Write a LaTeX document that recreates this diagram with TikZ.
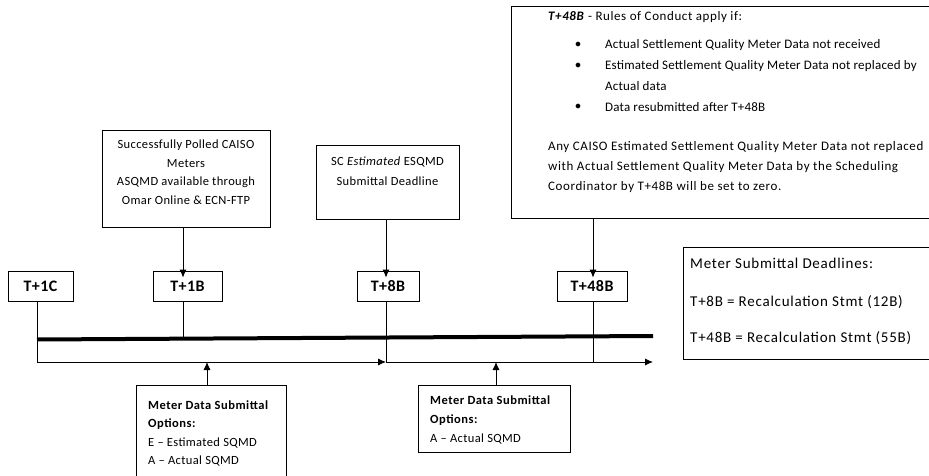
\documentclass[tikz,border=0pt]{standalone}
\usepackage{fontspec}
\setmainfont{Carlito}
\usetikzlibrary{arrows.meta}
\begin{document}
\begin{tikzpicture}[x=1pt,y=-1pt,
  box/.style={draw,line width=0.8pt,inner sep=0pt,minimum width=#1},
  tbox/.style={draw,line width=0.8pt,inner sep=0pt,minimum height=30pt,minimum width=#1,font=\bfseries\fontsize{16}{18}\selectfont\addfontfeature{LetterSpace=3}},
  txt/.style={inner sep=0pt,anchor=west,font=\fontsize{12.5}{15}\selectfont\addfontfeature{LetterSpace=3}},
  rtxt/.style={inner sep=0pt,anchor=west,font=\fontsize{13}{15}\selectfont\addfontfeature{LetterSpace=4.5}},
  ltxt/.style={inner sep=0pt,anchor=west,font=\fontsize{13}{15}\selectfont\addfontfeature{LetterSpace=1.5}},
  ctxt/.style={inner sep=0pt,font=\fontsize{12.5}{15}\selectfont\addfontfeature{LetterSpace=3}},
  btxt/.style={inner sep=0pt,anchor=west,font=\bfseries\fontsize{12.5}{15}\selectfont\addfontfeature{LetterSpace=4}},
  dtxt/.style={inner sep=0pt,anchor=west,font=\fontsize{15}{18}\selectfont\addfontfeature{LetterSpace=5}},
  conn/.style={line width=0.8pt},
  arr/.style={line width=0.8pt,-{Latex[length=8pt,width=7pt]}}]
\useasboundingbox (0,0) rectangle (929,476);
\begin{scope}
\clip (0,0) rectangle (929,476);

% columns of the time line
\coordinate (c1) at (37,0);
\coordinate (c2) at (183,0);
\coordinate (c3) at (386,0);
\coordinate (c4) at (593,0);
\coordinate (u1) at (207,0);
\coordinate (u2) at (496,0);

% upper notes
\node[box=168pt,minimum height=97pt] (poll) at (186,178.5) {};
\node[ctxt] (poll1) at (186,145) {Successfully Polled CAISO};
\node[ctxt] (poll2) at (186,164) {Meters};
\node[ctxt] (poll3) at (186,182) {ASQMD available through};
\node[ctxt] (poll4) at (186,200) {Omar Online \& ECN-FTP};

\node[box=143pt,minimum height=74pt] (est) at (387.5,182) {};
\node[ctxt] (est1) at (387.5,162) {SC \textit{Estimated} ESQMD};
\node[ctxt] (est2) at (387.5,181) {Submittal Deadline};

\node[box=429pt,minimum height=212pt] (rules) at (725.5,112) {};
\node[rtxt] (r0) at (548,17) {\textbf{\textit{T+48B}} - Rules of Conduct apply if:};
\node[ltxt] (b1) at (575,45) {$\bullet$};
\node[ltxt] (r1) at (605,45) {Actual Settlement Quality Meter Data not received};
\node[ltxt] (b2) at (575,66) {$\bullet$};
\node[ltxt] (r2) at (605,66) {Estimated Settlement Quality Meter Data not replaced by};
\node[ltxt] (r3) at (605,86) {Actual data};
\node[ltxt] (b3) at (575,107) {$\bullet$};
\node[ltxt] (r4) at (605,107) {Data resubmitted after T+48B};
\node[rtxt] (r5) at (548,147) {Any CAISO Estimated Settlement Quality Meter Data not replaced};
\node[rtxt] (r6) at (548,167) {with Actual Settlement Quality Meter Data by the Scheduling};
\node[rtxt] (r7) at (548,187) {Coordinator by T+48B will be set to zero.};

% milestone boxes
\node[tbox=65pt] (t1c) at (40.5,286) {T+1C};
\node[tbox=69pt] (t1b) at (187.5,286) {T+1B};
\node[tbox=62pt] (t8b) at (388,286) {T+8B};
\node[tbox=70pt] (t48b) at (592,286) {T+48B};

% deadlines legend
\node[box=257pt,minimum height=112pt] (dead) at (811.5,303) {};
\node[dtxt] (d1) at (690,263) {Meter Submittal Deadlines:};
\node[dtxt] (d2) at (690,302) {T+8B = Recalculation Stmt (12B)};
\node[dtxt] (d3) at (690,338) {T+48B = Recalculation Stmt (55B)};

% submittal options
\node[box=150pt,minimum height=105pt] (opt1) at (211,437.5) {};
\node[btxt] (o11) at (148,405) {Meter Data Submittal};
\node[btxt] (o12) at (148,424) {Options:};
\node[txt] (o13) at (148,443) {E -- Estimated SQMD};
\node[txt] (o14) at (148,461) {A -- Actual SQMD};

\node[box=152pt,minimum height=67pt] (opt2) at (494,418.5) {};
\node[btxt] (o21) at (430,400) {Meter Data Submittal};
\node[btxt] (o22) at (430,420) {Options:};
\node[txt] (o23) at (430,439) {A -- Actual SQMD};

% time line
\coordinate (thickL) at (37,339.5);
\coordinate (thickR) at (653,336);
\coordinate (thinL) at (37,362);
\coordinate (thinM) at (386,362);
\coordinate (thinR) at (653,362);
\draw[line width=4pt] (thickL) -- (thickR);
\draw[conn] (t1c.south -| c1) -- (thinL);
\draw[conn] (t1b.south -| c2) -- (thickL -| c2);
\draw[conn] (t8b.south -| c3) -- (thinM);
\draw[conn] (t48b.south -| c4) -- (thinR -| c4);
\draw[arr] (thinL) -- (thinM);
\draw[arr] (thinM) -- (thinR);

% notes pointing at the milestones
\draw[arr] (poll.south -| c2) -- ([yshift=-7pt]t1b.north -| c2);
\draw[arr] (est.south -| c3) -- ([yshift=-7pt]t8b.north -| c3);
\draw[arr] (rules.south -| c4) -- ([yshift=-7pt]t48b.north -| c4);

% options pointing at the time line
\draw[arr] (opt1.north -| u1) -- (thinL -| u1);
\draw[arr] (opt2.north -| u2) -- (thinL -| u2);
\end{scope}
\end{tikzpicture}
\end{document}
